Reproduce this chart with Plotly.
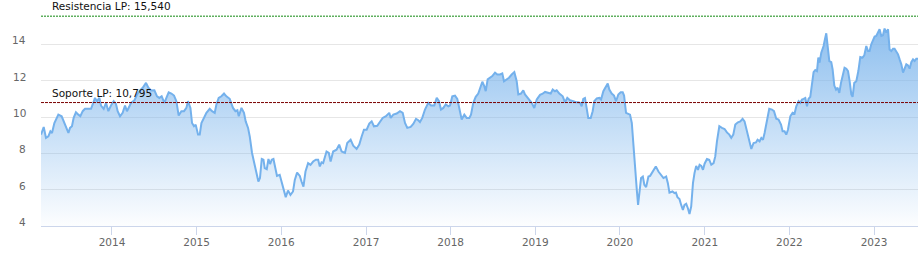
import pandas as pd
import plotly.graph_objects as go

# decimal-year positions of the weekly closes and the prices
years = [
    2013.161, 2013.193, 2013.220, 2013.248, 2013.272, 2013.291, 2013.319, 2013.366, 2013.405, 2013.437,
    2013.461, 2013.485, 2013.504, 2013.527, 2013.547, 2013.574, 2013.603, 2013.626, 2013.654, 2013.681,
    2013.713, 2013.752, 2013.772, 2013.799, 2013.823, 2013.851, 2013.870, 2013.902, 2013.929, 2013.957,
    2013.988, 2014.020, 2014.047, 2014.067, 2014.095, 2014.126, 2014.154, 2014.177, 2014.206, 2014.225,
    2014.265, 2014.296, 2014.324, 2014.363, 2014.402, 2014.430, 2014.461, 2014.501, 2014.532, 2014.560,
    2014.587, 2014.619, 2014.650,
    2014.670, 2014.702, 2014.733, 2014.761, 2014.788, 2014.820, 2014.851, 2014.879, 2014.898, 2014.927,
    2014.946, 2014.969, 2014.989, 2015.017, 2015.037, 2015.057, 2015.087, 2015.116, 2015.155, 2015.182,
    2015.214, 2015.234, 2015.261, 2015.293, 2015.324, 2015.352, 2015.391, 2015.430, 2015.459, 2015.482,
    2015.498, 2015.530, 2015.560, 2015.580, 2015.608, 2015.628, 2015.655, 2015.687, 2015.710, 2015.730,
    2015.749, 2015.770, 2015.790, 2015.805, 2015.829, 2015.849, 2015.868, 2015.888, 2015.908, 2015.931,
    2015.950, 2015.982, 2016.009, 2016.033, 2016.053, 2016.080, 2016.109, 2016.139,
    2016.160, 2016.187, 2016.219, 2016.239, 2016.262, 2016.286, 2016.317, 2016.345, 2016.376, 2016.408,
    2016.435, 2016.455, 2016.475, 2016.494, 2016.534, 2016.561, 2016.582, 2016.612, 2016.652, 2016.683,
    2016.712, 2016.751, 2016.778, 2016.818, 2016.849, 2016.889, 2016.920, 2016.948, 2016.975, 2017.007,
    2017.038, 2017.066, 2017.093, 2017.132, 2017.164, 2017.196, 2017.235, 2017.274, 2017.291, 2017.322,
    2017.362, 2017.401, 2017.433, 2017.460, 2017.487, 2017.527, 2017.558, 2017.590, 2017.617, 2017.637,
    2017.664, 2017.696, 2017.735, 2017.767, 2017.806, 2017.835, 2017.862, 2017.885, 2017.913, 2017.941,
    2017.972, 2017.992, 2018.019, 2018.051, 2018.078, 2018.102, 2018.130, 2018.161, 2018.189, 2018.220,
    2018.240, 2018.267, 2018.296, 2018.326, 2018.350, 2018.374, 2018.397, 2018.414, 2018.437, 2018.465,
    2018.492, 2018.524, 2018.551, 2018.583, 2018.610, 2018.630, 2018.662, 2018.689, 2018.721, 2018.752,
    2018.780, 2018.799, 2018.831, 2018.858, 2018.878, 2018.917, 2018.957, 2018.988, 2019.017, 2019.056,
    2019.087, 2019.115, 2019.154, 2019.182, 2019.206, 2019.233, 2019.253, 2019.284, 2019.324, 2019.351,
    2019.378, 2019.410, 2019.449, 2019.481, 2019.508, 2019.528, 2019.548, 2019.567, 2019.587, 2019.608,
    2019.626, 2019.655, 2019.678, 2019.697, 2019.726, 2019.757, 2019.777, 2019.804, 2019.836, 2019.856,
    2019.875, 2019.903, 2019.930, 2019.954, 2019.981, 2020.009, 2020.033, 2020.049, 2020.072, 2020.099,
    2020.119, 2020.140, 2020.158, 2020.179, 2020.199, 2020.214, 2020.229, 2020.249, 2020.270, 2020.288,
    2020.309, 2020.336, 2020.356, 2020.376, 2020.395, 2020.423, 2020.454, 2020.482, 2020.513, 2020.545,
    2020.565, 2020.584, 2020.619, 2020.643, 2020.660, 2020.678, 2020.702, 2020.722, 2020.742, 2020.761,
    2020.781, 2020.801, 2020.820, 2020.840, 2020.861, 2020.879, 2020.899, 2020.920, 2020.939, 2020.959,
    2020.979, 2020.998, 2021.026, 2021.053, 2021.077, 2021.104, 2021.124, 2021.144, 2021.172, 2021.203,
    2021.234, 2021.262, 2021.290, 2021.313, 2021.337, 2021.361, 2021.392, 2021.420, 2021.447, 2021.470,
    2021.499, 2021.526, 2021.550, 2021.577, 2021.605, 2021.624, 2021.648, 2021.668, 2021.688, 2021.707,
    2021.735, 2021.762, 2021.794, 2021.818, 2021.845, 2021.872, 2021.901, 2021.920, 2021.943, 2021.963,
    2021.983, 2022.011, 2022.038, 2022.061, 2022.082, 2022.109, 2022.129, 2022.149, 2022.168, 2022.188,
    2022.208, 2022.227, 2022.247, 2022.267, 2022.286, 2022.306, 2022.326, 2022.342, 2022.357, 2022.377,
    2022.404, 2022.424, 2022.436, 2022.452, 2022.472, 2022.495, 2022.511, 2022.531, 2022.551, 2022.570,
    2022.590, 2022.610, 2022.634, 2022.652, 2022.673, 2022.693, 2022.712, 2022.732, 2022.747, 2022.767,
    2022.791, 2022.815, 2022.838, 2022.865, 2022.885, 2022.909, 2022.929, 2022.948, 2022.968, 2022.988,
    2023.007, 2023.027, 2023.047, 2023.066, 2023.086, 2023.106, 2023.125, 2023.145, 2023.166, 2023.184,
    2023.205, 2023.225, 2023.243, 2023.264, 2023.284, 2023.303, 2023.323, 2023.343, 2023.362, 2023.382,
    2023.402, 2023.421, 2023.441, 2023.461, 2023.480, 2023.500, 2023.520,
]

prices = [
    9.03, 9.45, 8.85, 8.93, 9.21, 9.12, 9.67, 10.13, 10.04, 9.67,
    9.49, 9.12, 9.40, 9.49, 9.95, 10.26, 10.13, 10.04, 10.32, 10.45,
    10.45, 10.45, 10.69, 11.05, 10.87, 11.05, 10.63, 10.45, 10.78, 10.32,
    10.63, 10.87, 10.72, 10.32, 10.04, 10.23, 10.63, 10.32, 10.59, 10.78,
    10.92, 11.24, 11.42, 11.61, 11.88, 11.61, 11.46, 11.47, 11.14, 11.05,
    11.14, 10.78, 11.14,
    11.36, 11.29, 11.18, 10.87, 10.08, 10.32, 10.32, 10.50, 10.87, 10.50,
    9.67, 9.49, 9.58, 9.03, 9.03, 9.67, 9.95, 10.23, 10.45, 10.32,
    10.23, 10.69, 11.05, 11.14, 11.29, 11.14, 11.00, 10.50, 10.32, 10.37,
    10.04, 10.50, 10.23, 9.76, 9.40, 8.93, 8.02, 7.37, 6.91, 6.45,
    6.64, 7.69, 7.65, 7.19, 7.13, 7.69, 7.41, 7.65, 7.69, 7.09,
    6.76, 6.82, 6.36, 5.81, 5.59, 5.95, 5.71, 5.90,
    6.54, 6.94, 6.76, 6.45, 6.17, 7.00, 7.46, 7.37, 7.55, 7.65,
    7.65, 7.28, 7.50, 7.46, 8.10, 8.02, 7.55, 8.10, 8.20, 8.48,
    8.10, 8.02, 8.57, 8.75, 8.42, 8.24, 8.48, 8.93, 9.30, 9.30,
    9.64, 9.76, 9.49, 9.52, 9.76, 9.95, 10.04, 10.23, 9.95, 10.13,
    10.19, 10.32, 10.23, 9.67, 9.40, 9.45, 9.62, 9.90, 9.82, 9.72,
    9.95, 10.41, 10.78, 10.63, 10.63, 11.05, 10.87, 10.41, 10.50, 10.69,
    10.59, 10.63, 11.14, 11.18, 11.00, 10.41, 9.86, 10.13, 9.95, 9.95,
    10.13, 10.78, 11.11, 11.29, 11.61, 11.94, 11.70, 11.42, 12.07, 12.16,
    12.25, 12.44, 12.34, 12.34, 12.40, 11.97, 12.07, 12.16, 12.34, 12.47,
    11.97, 11.24, 11.29, 11.47, 11.24, 11.00, 10.78, 10.50, 10.96, 11.22,
    11.28, 11.38, 11.33, 11.29, 11.51, 11.42, 11.47, 11.29, 11.14, 10.81,
    11.05, 10.92, 10.87, 10.81, 10.81, 10.78, 10.59, 11.00, 11.05, 10.45,
    9.95, 9.95, 10.32, 10.87, 11.02, 11.05, 10.96, 11.42, 11.66, 11.85,
    11.51, 11.29, 11.18, 10.87, 11.24, 11.36, 11.36, 11.18, 10.23, 10.17,
    10.13, 9.67, 8.38, 7.46, 5.99, 5.16, 5.71, 6.64, 6.72, 6.27,
    6.14, 6.72, 6.76, 6.91, 7.00, 7.28, 7.00, 6.82, 6.64, 6.72,
    6.36, 5.84, 5.90, 5.81, 5.84, 5.59, 5.48, 5.16, 4.89, 5.16,
    5.22, 4.98, 4.66, 5.07, 6.36, 6.91, 7.31, 7.09, 7.37, 7.31,
    7.09, 7.43, 7.69, 7.65, 7.37, 7.46, 7.83, 8.66, 9.49, 9.40,
    9.34, 9.15, 9.03, 8.85, 9.03, 9.58, 9.71, 9.76, 9.90, 9.76,
    9.21, 8.66, 8.24, 8.57, 8.60, 8.75, 8.66, 8.85, 8.75, 9.12,
    9.86, 10.45, 10.41, 10.32, 9.90, 9.86, 9.58, 9.21, 9.21, 9.03,
    9.30, 10.04, 10.23, 10.19, 10.59, 10.87, 10.78, 10.96, 11.00, 11.05,
    10.59, 11.00, 11.11, 11.70, 12.47, 12.58, 12.53, 13.27, 12.99, 13.54,
    13.91, 14.37, 14.61, 13.91, 13.08, 13.02, 12.62, 11.73, 11.51, 11.61,
    11.33, 11.88, 12.34, 12.71, 12.66, 12.53, 11.97, 11.24, 11.11, 11.88,
    11.97, 12.53, 13.30, 13.27, 13.39, 13.91, 13.63, 13.63, 14.00, 14.28,
    14.43, 14.46, 14.65, 14.83, 14.46, 14.50, 14.87, 14.65, 14.83, 13.72,
    13.63, 13.76, 13.76, 13.63, 13.45, 13.17, 12.90, 12.44, 12.71, 12.90,
    12.84, 12.66, 13.02, 13.17, 13.08, 13.21, 13.21,
]

resistance_value = 15.54
resistance_label = "Resistencia LP: 15,540"
support_value = 10.795
support_label = "Soporte LP: 10,795"

y_ticks = [4, 6, 8, 10, 12, 14, 16]
y_tick_labels = ["4", "6", "8", "10", "12", "14", ""]
x_tick_years = [2014, 2015, 2016, 2017, 2018, 2019, 2020, 2021, 2022, 2023]


def to_date(t):
    y = int(t)
    start = pd.Timestamp(year=y, month=1, day=1)
    end = pd.Timestamp(year=y + 1, month=1, day=1)
    return start + (end - start) * (t - y)


dates = [to_date(t) for t in years]
x_ticks = [pd.Timestamp(year=y, month=1, day=1) for y in x_tick_years]

FONT = "DejaVu Sans"
LINE = "#74b1ec"

fig = go.Figure()
fig.add_trace(go.Scatter(
    x=dates, y=prices, mode="lines",
    line=dict(color=LINE, width=2),
    fill="tozeroy",
    fillgradient=dict(
        type="vertical",
        colorscale=[[0, "rgba(124,181,236,0.02)"], [1, "rgba(124,181,236,0.95)"]],
        start=4, stop=16,
    ),
    hoverinfo="skip", showlegend=False,
))

fig.add_hline(y=resistance_value, line=dict(color="rgb(95,175,95)", width=1.5, dash="2px,1px"))
fig.add_hline(y=support_value, line=dict(color="#7a0000", width=1, dash="3px,1px"))

annotations = [
    dict(xref="paper", x=0, xshift=9, xanchor="left", yref="y", y=resistance_value,
         yanchor="bottom", yshift=2, text=resistance_label, showarrow=False,
         font=dict(family=FONT, size=10.5, color="#111")),
    dict(xref="paper", x=0, xshift=9, xanchor="left", yref="y", y=support_value,
         yanchor="bottom", yshift=2, text=support_label, showarrow=False,
         font=dict(family=FONT, size=10.5, color="#111")),
]
for v, lab in zip(y_ticks, y_tick_labels):
    if lab:
        annotations.append(dict(xref="paper", x=0, xshift=-13, xanchor="right", yref="y", y=v,
                                yshift=4, text=lab, showarrow=False,
                                font=dict(family=FONT, size=10.5, color="#666")))

fig.update_layout(
    width=921, height=261,
    margin=dict(l=41, r=3, t=8, b=35),
    paper_bgcolor="white", plot_bgcolor="white",
    font=dict(family=FONT, size=10.5, color="#666"),
    annotations=annotations,
    xaxis=dict(
        type="date", range=[dates[0], dates[-1]],
        tickvals=x_ticks, ticktext=[str(y) for y in x_tick_years],
        showgrid=False, zeroline=False,
        showline=True, linecolor="#ccd6eb", linewidth=1,
        ticks="outside", ticklen=8, tickcolor="#ccd6eb", tickwidth=1,
        ticklabelstandoff=-2,
        tickfont=dict(family=FONT, size=10.5, color="#666"),
    ),
    yaxis=dict(
        range=[4, 16], tickvals=y_ticks, showticklabels=False,
        showgrid=True, gridcolor="#e6e6e6", gridwidth=1, zeroline=False, showline=False,
    ),
)

fig.write_html("out.html")
